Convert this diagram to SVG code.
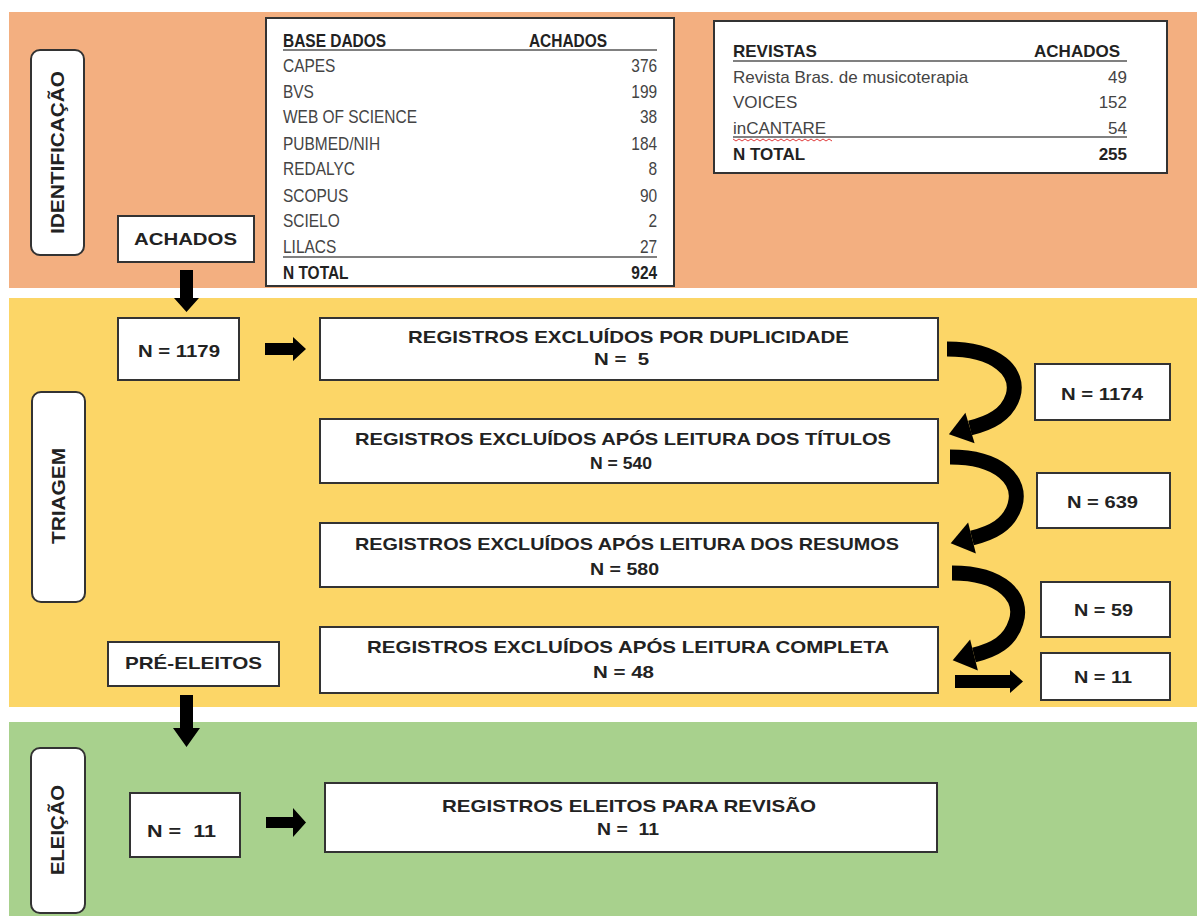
<svg xmlns="http://www.w3.org/2000/svg" width="1197" height="916" viewBox="0 0 1197 916">
<style>
.box{fill:#fff;stroke:#333;stroke-width:2}
.lbl{fill:#fff;stroke:#333;stroke-width:2}
.t{font-family:"Liberation Sans",Arial,sans-serif;font-weight:bold;font-size:17px;fill:#222;white-space:pre}
.vt{font-family:"Liberation Sans",Arial,sans-serif;font-weight:bold;font-size:19px;fill:#222;text-anchor:middle;dominant-baseline:central}
.tb{font-family:"Liberation Sans",Arial,sans-serif;font-size:18px;fill:#444}
.tbb{font-family:"Liberation Sans",Arial,sans-serif;font-size:18px;font-weight:bold;fill:#222}
.t2{font-family:"Liberation Sans",Arial,sans-serif;font-size:17px;fill:#444}
.t2b{font-family:"Liberation Sans",Arial,sans-serif;font-size:17px;font-weight:bold;fill:#222}
.r{text-anchor:end}
.rule{stroke:#808080;stroke-width:2}
.curve{fill:none;stroke:#000;stroke-width:15}
.ah{fill:#000}
</style>
<rect width="1197" height="916" fill="#fff"/>
<g id="bands">
<rect x="9" y="12" width="1188" height="276" fill="#F3AF80"/>
<rect x="9" y="298" width="1188" height="409" fill="#FCD667"/>
<rect x="9" y="722" width="1188" height="194" fill="#A8D18D"/>
</g>
<g id="label-identificacao">
<rect class="lbl" x="31" y="50" width="53" height="205" rx="9"/>
<text class="vt" transform="translate(57.5,152.5) rotate(-90)" textLength="163" lengthAdjust="spacingAndGlyphs">IDENTIFICAÇÃO</text>
</g>
<g id="label-triagem">
<rect class="lbl" x="32" y="392" width="53" height="210" rx="9"/>
<text class="vt" transform="translate(58.5,496) rotate(-90)" textLength="96" lengthAdjust="spacingAndGlyphs">TRIAGEM</text>
</g>
<g id="label-eleicao">
<rect class="lbl" x="31" y="748" width="54" height="165" rx="9"/>
<text class="vt" transform="translate(57,830) rotate(-90)" textLength="90" lengthAdjust="spacingAndGlyphs">ELEIÇÃO</text>
</g>
<g id="table-bases">
<rect class="box" x="266" y="18" width="408" height="268"/>
<line class="rule" x1="283" y1="50" x2="657" y2="50"/>
<line class="rule" x1="283" y1="257" x2="657" y2="257"/>
<g transform="translate(283,0) scale(0.86,1)">
<text class="tbb" x="0" y="47">BASE DADOS</text>
<text class="tbb" x="286" y="47">ACHADOS</text>
<text class="tb" x="0" y="72">CAPES</text><text class="tb r" x="435" y="72">376</text>
<text class="tb" x="0" y="98">BVS</text><text class="tb r" x="435" y="98">199</text>
<text class="tb" x="0" y="123">WEB OF SCIENCE</text><text class="tb r" x="435" y="123">38</text>
<text class="tb" x="0" y="150">PUBMED/NIH</text><text class="tb r" x="435" y="150">184</text>
<text class="tb" x="0" y="175">REDALYC</text><text class="tb r" x="435" y="175">8</text>
<text class="tb" x="0" y="202">SCOPUS</text><text class="tb r" x="435" y="202">90</text>
<text class="tb" x="0" y="227">SCIELO</text><text class="tb r" x="435" y="227">2</text>
<text class="tb" x="0" y="253">LILACS</text><text class="tb r" x="435" y="253">27</text>
<text class="tbb" x="0" y="279">N TOTAL</text><text class="tbb r" x="435" y="279">924</text>
</g>
</g>
<g id="table-revistas">
<rect class="box" x="714" y="21" width="453" height="152"/>
<line class="rule" x1="733" y1="61" x2="1127" y2="61"/>
<line class="rule" x1="733" y1="137" x2="1127" y2="137"/>
<polyline points="733,139 736,141 739,139 742,141 745,139 748,141 751,139 754,141 757,139 760,141 763,139 766,141 769,139 772,141 775,139 778,141 781,139 784,141 787,139 790,141 793,139 796,141 799,139 802,141 805,139 808,141 811,139 814,141 817,139 820,141 823,139 826,141 829,139 832,141" fill="none" stroke="#e03a3a" stroke-width="1"/>
<text class="t2b" x="733" y="57">REVISTAS</text><text class="t2b r" x="1120" y="57">ACHADOS</text>
<text class="t2" x="733" y="83">Revista Bras. de musicoterapia</text><text class="t2 r" x="1127" y="83">49</text>
<text class="t2" x="733" y="108">VOICES</text><text class="t2 r" x="1127" y="108">152</text>
<text class="t2" x="733" y="134">inCANTARE</text><text class="t2 r" x="1127" y="134">54</text>
<text class="t2b" x="733" y="160">N TOTAL</text><text class="t2b r" x="1127" y="160">255</text>
</g>
<g id="node-achados">
<rect class="box" x="118" y="216" width="136" height="46"/>
<text class="t" x="134" y="245" textLength="103" lengthAdjust="spacingAndGlyphs">ACHADOS</text>
</g>
<g id="node-n1179">
<rect class="box" x="118" y="318" width="121" height="62"/>
<text class="t" x="138" y="357" textLength="82" lengthAdjust="spacingAndGlyphs">N = 1179</text>
</g>
<g id="node-dup">
<rect class="box" x="320" y="318" width="618" height="62"/>
<text class="t" x="408" y="343" textLength="441" lengthAdjust="spacingAndGlyphs">REGISTROS EXCLUÍDOS POR DUPLICIDADE</text>
<text class="t" x="594" y="365" textLength="55" lengthAdjust="spacingAndGlyphs">N =  5</text>
</g>
<g id="node-titulos">
<rect class="box" x="320" y="419" width="618" height="64"/>
<text class="t" x="355" y="445" textLength="536" lengthAdjust="spacingAndGlyphs">REGISTROS EXCLUÍDOS APÓS LEITURA DOS TÍTULOS</text>
<text class="t" x="590" y="469" textLength="62" lengthAdjust="spacingAndGlyphs">N = 540</text>
</g>
<g id="node-resumos">
<rect class="box" x="320" y="523" width="618" height="64"/>
<text class="t" x="355" y="550" textLength="544" lengthAdjust="spacingAndGlyphs">REGISTROS EXCLUÍDOS APÓS LEITURA DOS RESUMOS</text>
<text class="t" x="590" y="575" textLength="69" lengthAdjust="spacingAndGlyphs">N = 580</text>
</g>
<g id="node-completa">
<rect class="box" x="320" y="627" width="618" height="66"/>
<text class="t" x="367" y="653" textLength="522" lengthAdjust="spacingAndGlyphs">REGISTROS EXCLUÍDOS APÓS LEITURA COMPLETA</text>
<text class="t" x="593" y="678" textLength="61" lengthAdjust="spacingAndGlyphs">N = 48</text>
</g>
<g id="node-n1174">
<rect class="box" x="1035" y="364" width="135" height="56"/>
<text class="t" x="1061" y="400" textLength="82" lengthAdjust="spacingAndGlyphs">N = 1174</text>
</g>
<g id="node-n639">
<rect class="box" x="1037" y="473" width="133" height="55"/>
<text class="t" x="1067" y="508" textLength="71" lengthAdjust="spacingAndGlyphs">N = 639</text>
</g>
<g id="node-n59">
<rect class="box" x="1041" y="582" width="129" height="55"/>
<text class="t" x="1074" y="616" textLength="59" lengthAdjust="spacingAndGlyphs">N = 59</text>
</g>
<g id="node-n11-right">
<rect class="box" x="1041" y="653" width="129" height="47"/>
<text class="t" x="1074" y="683" textLength="58" lengthAdjust="spacingAndGlyphs">N = 11</text>
</g>
<g id="node-preeleitos">
<rect class="box" x="108" y="642" width="171" height="44"/>
<text class="t" x="125" y="669" textLength="137" lengthAdjust="spacingAndGlyphs">PRÉ-ELEITOS</text>
</g>
<g id="node-n11">
<rect class="box" x="130" y="793" width="110" height="64"/>
<text class="t" x="147" y="837" textLength="69" lengthAdjust="spacingAndGlyphs">N =  11</text>
</g>
<g id="node-eleitos">
<rect class="box" x="325" y="783" width="612" height="69"/>
<text class="t" x="442" y="812" textLength="374" lengthAdjust="spacingAndGlyphs">REGISTROS ELEITOS PARA REVISÃO</text>
<text class="t" x="597" y="835" textLength="62" lengthAdjust="spacingAndGlyphs">N =  11</text>
</g>
<g id="connectors">
<polygon class="ah" points="180,270 193,270 193,298 199,298 186.5,312 174,298 180,298"/>
<polygon class="ah" points="265,343 293,343 293,337 306,349 293,361 293,355 265,355"/>
<polygon class="ah" points="180,695 193,695 193,728 200,728 186.5,747 173,728 180,728"/>
<polygon class="ah" points="266,817 293,817 293,808 306,822.5 293,837 293,828 266,828"/>
<polygon class="ah" points="955,675 1010,675 1010,670 1023,681.5 1010,693 1010,688 955,688"/>
<path class="curve" d="M947 349 C997 349 1020 372 1013 396 C1007 415 990 423 970 428"/>
<polygon class="ah" points="974.6,443.3 965.4,412.7 948.9,434.3"/>
<path class="curve" d="M950 457 C1000 457 1022 481 1015 505 C1009 525 992 533 972 538"/>
<polygon class="ah" points="975.9,553.5 968.1,522.5 950.7,543.3"/>
<path class="curve" d="M952 573 C1003 573 1024 598 1016 622 C1010 642 994 650 974 655"/>
<polygon class="ah" points="977.9,670.5 970.1,639.5 952.7,660.3"/>
</g>
</svg>
